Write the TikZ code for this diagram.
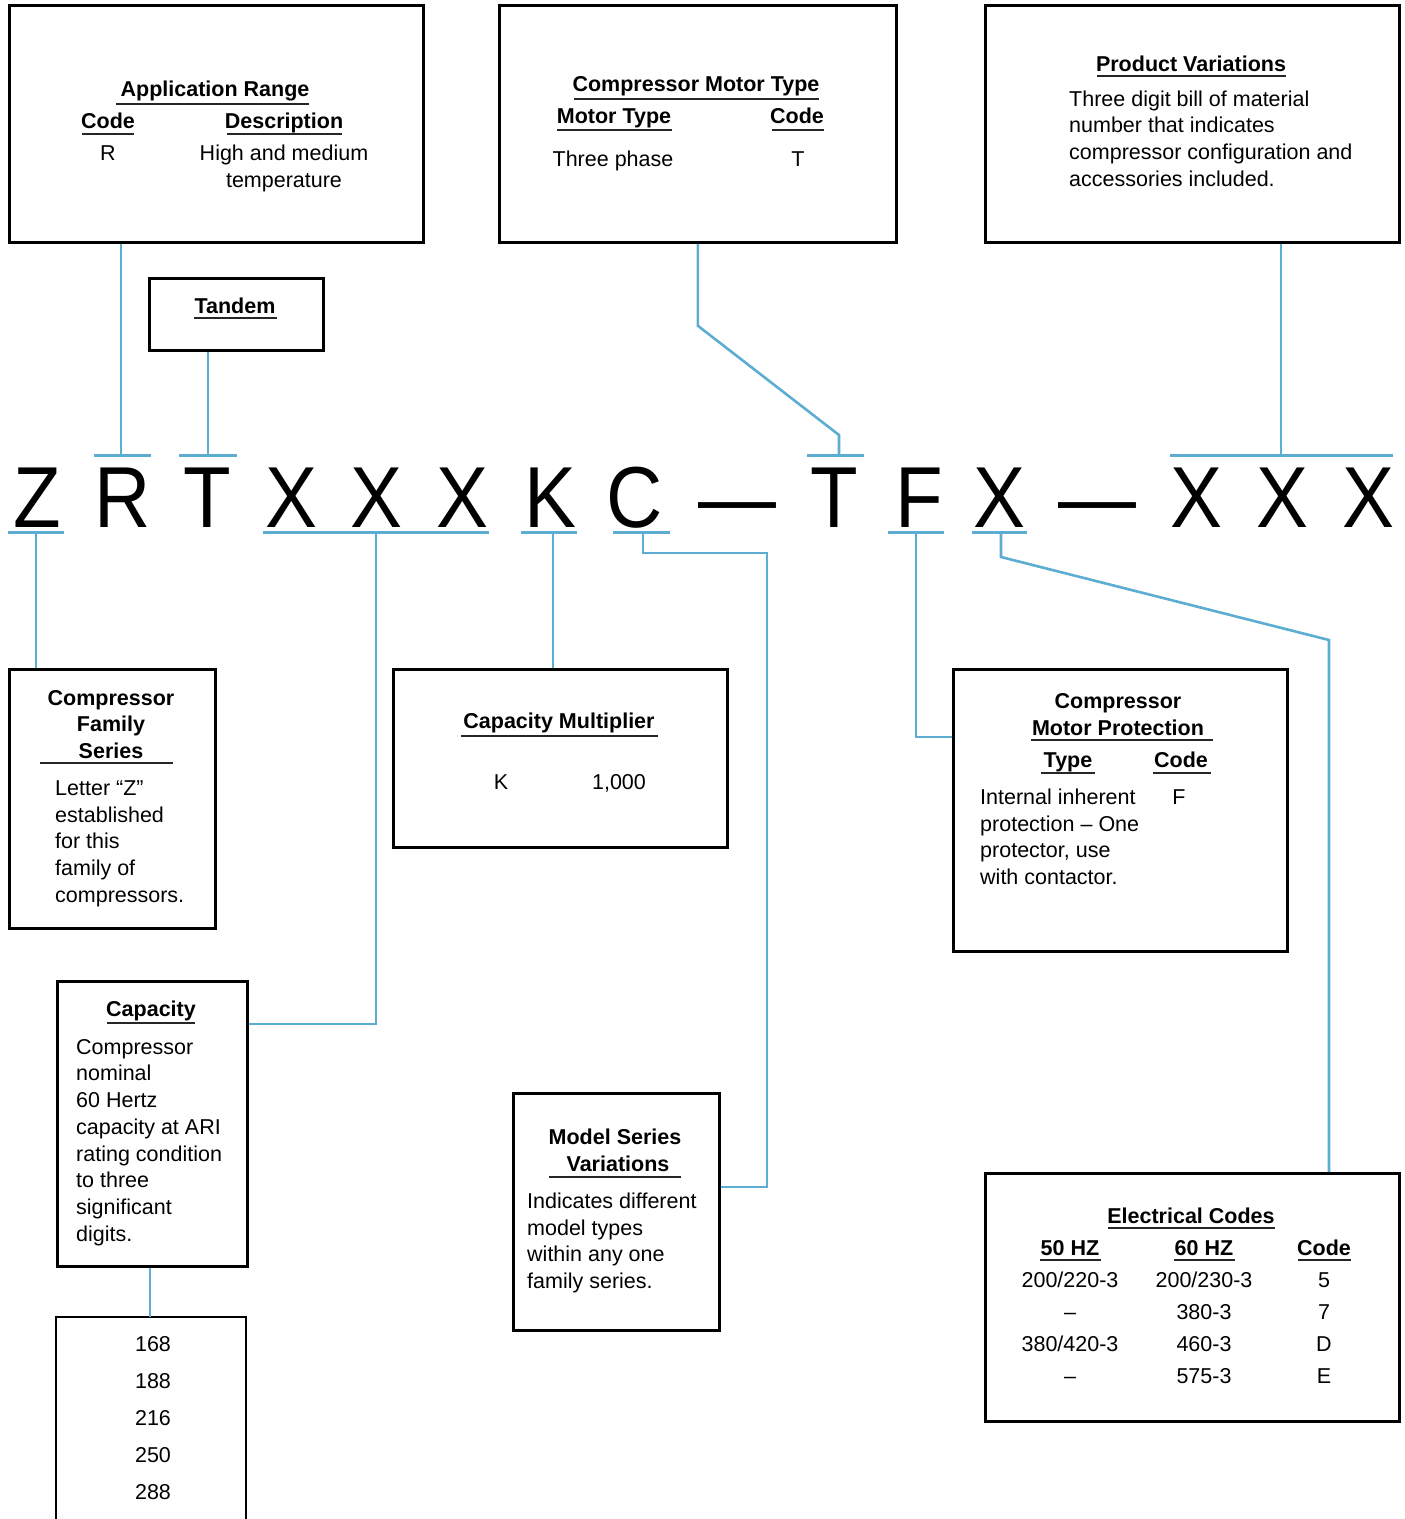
\documentclass[tikz,border=0pt]{standalone}
\usepackage{fontspec}
\setmainfont{Liberation Sans}
\definecolor{cblue}{RGB}{93,173,210}
\tikzset{
  box/.style={draw=black, line width=2.8pt, inner sep=0pt, anchor=north west},
  boxline/.style={draw=black, line width=2.8pt},
  wire/.style={draw=cblue, line width=2.6pt},
  bar/.style={draw=cblue, line width=3pt},
  ul/.style={draw=black!85, line width=2pt},
  txt/.style={font=\fontsize{21.5}{26.7}\selectfont, inner sep=0pt, anchor=base},
  ttl/.style={font=\fontsize{21.5}{26.7}\selectfont\bfseries, inner sep=0pt, anchor=base},
  para/.style={font=\fontsize{21.5}{26.7}\selectfont, inner sep=0pt, align=left, anchor=north west},
  big/.style={font=\fontsize{86.6}{86.6}\selectfont, inner sep=0pt, anchor=base, xscale=0.9},
}
\begin{document}
\begin{tikzpicture}[x=1pt,y=-1pt]
\useasboundingbox (0,0) rectangle (1405,1519);

% ---------- boxes ----------
\node[box, minimum width=414pt, minimum height=237pt] (app)  at (8,4) {};
\node[box, minimum width=397pt, minimum height=237pt] (mot)  at (498,4) {};
\node[box, minimum width=414pt, minimum height=237pt] (prod) at (984,4) {};
\node[box, minimum width=174pt, minimum height=72pt]  (tan)  at (148,277) {};
\node[box, minimum width=206pt, minimum height=259pt] (fam)  at (8,668) {};
\node[box, minimum width=334pt, minimum height=178pt] (cmul) at (392,668) {};
\node[box, minimum width=334pt, minimum height=282pt] (prot) at (952,668) {};
\node[box, minimum width=190pt, minimum height=285pt] (cap)  at (56,980) {};
\node[box, minimum width=206pt, minimum height=237pt] (msv)  at (512,1092) {};
\node[box, minimum width=414pt, minimum height=248pt] (elec) at (984,1172) {};
\coordinate (numtop) at (150,1317);
\draw[boxline] (56,1530) -- (56,1317) -- (246,1317) -- (246,1530);

% ---------- model code letters ----------
\node[big] (lZ)  at (37,527)  {Z};
\node[big] (lR)  at (123,527) {R};
\node[big] (lT)  at (207,527) {T};
\node[big] (lX1) at (291,527) {X};
\node[big] (lX2) at (376,527) {X};
\node[big] (lX3) at (462,527) {X};
\node[big] (lK)  at (550,527) {K};
\node[big] (lC)  at (635,527) {C};
\node[big] (ld1) at (737,527) {—};
\node[big] (lT2) at (834,527) {T};
\node[big] (lF)  at (919,527) {F};
\node[big] (lX4) at (999,527) {X};
\node[big] (ld2) at (1097,527) {—};
\node[big] (lX5) at (1196,527) {X};
\node[big] (lX6) at (1282,527) {X};
\node[big] (lX7) at (1368,527) {X};

% ---------- bars ----------
\draw[bar] (8,532) -- (64,532);
\draw[bar] (94,455) -- (151,455);
\draw[bar] (179,455) -- (237,455);
\draw[bar] (263,532) -- (489,532);
\draw[bar] (521,532) -- (577,532);
\draw[bar] (613,532) -- (670,532);
\draw[bar] (807,455) -- (864,455);
\draw[bar] (888,532) -- (944,532);
\draw[bar] (972,532) -- (1027,532);
\draw[bar] (1170,455) -- (1393,455);

\coordinate (bZ)   at (36,532);
\coordinate (bR)   at (121,455);
\coordinate (bT)   at (208,455);
\coordinate (bXXX) at (376,532);
\coordinate (bK)   at (553,532);
\coordinate (bC)   at (643,532);
\coordinate (bT2)  at (839,455);
\coordinate (bF)   at (916,532);
\coordinate (bXf)  at (1001,532);
\coordinate (bP)   at (1281,455);

% ---------- connectors ----------
\draw[wire] (bZ) -- (bZ |- fam.north);
\draw[wire] (bR) -- (bR |- app.south);
\draw[wire] (bT) -- (bT |- tan.south);
\draw[wire] (bXXX) |- ([yshift=-44pt]cap.north east);
\draw[wire] (bK) -- (bK |- cmul.north);
\draw[wire] (bC) |- (767,553) |- ([yshift=-95pt]msv.north east);
\draw[wire] (mot.south) -- ++(0,82) -- (839,435) -- (bT2);
\draw[wire] (bF) |- ([yshift=-69pt]prot.north west);
\draw[wire] (bXf) -- (1001,557) -- (1329,640) -- ([xshift=345pt]elec.north west);
\draw[wire] (bP) -- (bP |- prod.south);
\draw[wire] (numtop) -- (numtop |- cap.south);

% ---------- Application Range ----------
\node[ttl] (appT) at (215,96) {Application Range};
\draw[ul] (116,104) -- (309,104);
\node[ttl] (appC) at (108,128) {Code};
\draw[ul] (82,134) -- (134,134);
\node[ttl] (appD) at (284,128) {Description};
\draw[ul] (227,134) -- (342,134);
\node[txt] (appR) at (108,160) {R};
\node[txt] (appH) at (284,160) {High and medium};
\node[txt] (appM) at (284,187) {temperature};

% ---------- Compressor Motor Type ----------
\node[ttl] (motT) at (696,91) {Compressor Motor Type};
\draw[ul] (574,99) -- (819,99);
\node[ttl] (motM) at (614,123) {Motor Type};
\draw[ul] (557,130) -- (672,130);
\node[ttl] (motC) at (797,123) {Code};
\draw[ul] (772,130) -- (824,130);
\node[txt] (motP) at (613,166) {Three phase};
\node[txt] (motX) at (798,166) {T};

% ---------- Product Variations ----------
\node[ttl] (prodT) at (1191,71) {Product Variations};
\draw[ul] (1097,76) -- (1286,76);
\node[para] (prodB) at (1069,90.4) {Three digit bill of material\\number that indicates\\compressor configuration and\\accessories included.};

% ---------- Tandem ----------
\node[ttl] (tanT) at (235,313) {Tandem};
\draw[ul] (194,318) -- (277,318);

% ---------- Compressor Family Series ----------
\node[ttl] (famA) at (111,705) {Compressor};
\node[ttl] (famB) at (111,731) {Family};
\node[ttl] (famC) at (111,758) {Series};
\draw[ul] (40,763) -- (173,763);
\node[para] (famP) at (55,780.4) {Letter “Z”\\established\\for this\\family of\\compressors.};

% ---------- Capacity Multiplier ----------
\node[ttl] (cmT) at (559,728) {Capacity Multiplier};
\draw[ul] (461,736) -- (658,736);
\node[txt] (cmK) at (501,789) {K};
\node[txt] (cmV) at (619,789) {1,000};

% ---------- Compressor Motor Protection ----------
\node[ttl] (prA) at (1118,708) {Compressor};
\node[ttl] (prB) at (1118,735) {Motor Protection};
\draw[ul] (1031,740) -- (1213,740);
\node[ttl] (prTy) at (1068,767) {Type};
\draw[ul] (1041,773) -- (1095,773);
\node[ttl] (prCo) at (1181,767) {Code};
\draw[ul] (1153,773) -- (1211,773);
\node[para] (prP) at (980,788.6) {Internal inherent\\protection – One\\protector, use\\with contactor.};
\node[txt] (prF) at (1179,804) {F};

% ---------- Capacity ----------
\node[ttl] (capT) at (151,1016) {Capacity};
\draw[ul] (107,1023) -- (195,1023);
\node[para] (capP) at (76,1039) {Compressor\\nominal\\60 Hertz\\capacity at ARI\\rating condition\\to three\\significant\\digits.};

% ---------- Model Series Variations ----------
\node[ttl] (msA) at (615,1144) {Model Series};
\node[ttl] (msB) at (618,1171) {Variations};
\draw[ul] (549,1177) -- (681,1177);
\node[para] (msP) at (527,1192.6) {Indicates different\\model types\\within any one\\family series.};

% ---------- Electrical Codes ----------
\node[ttl] (elT) at (1191,1223) {Electrical Codes};
\draw[ul] (1108,1228) -- (1275,1228);
\node[ttl] (el50) at (1070,1255) {50 HZ};
\draw[ul] (1040,1260) -- (1101,1260);
\node[ttl] (el60) at (1204,1255) {60 HZ};
\draw[ul] (1174,1260) -- (1235,1260);
\node[ttl] (elC) at (1324,1255) {Code};
\draw[ul] (1298,1260) -- (1351,1260);
\node[txt] (e1a) at (1070,1287) {200/220-3};
\node[txt] (e1b) at (1204,1287) {200/230-3};
\node[txt] (e1c) at (1324,1287) {5};
\node[txt] (e2a) at (1070,1319) {–};
\node[txt] (e2b) at (1204,1319) {380-3};
\node[txt] (e2c) at (1324,1319) {7};
\node[txt] (e3a) at (1070,1351) {380/420-3};
\node[txt] (e3b) at (1204,1351) {460-3};
\node[txt] (e3c) at (1324,1351) {D};
\node[txt] (e4a) at (1070,1383) {–};
\node[txt] (e4b) at (1204,1383) {575-3};
\node[txt] (e4c) at (1324,1383) {E};

% ---------- capacity values ----------
\node[txt] (n1) at (153,1351) {168};
\node[txt] (n2) at (153,1388) {188};
\node[txt] (n3) at (153,1425) {216};
\node[txt] (n4) at (153,1462) {250};
\node[txt] (n5) at (153,1499) {288};
\end{tikzpicture}
\end{document}
